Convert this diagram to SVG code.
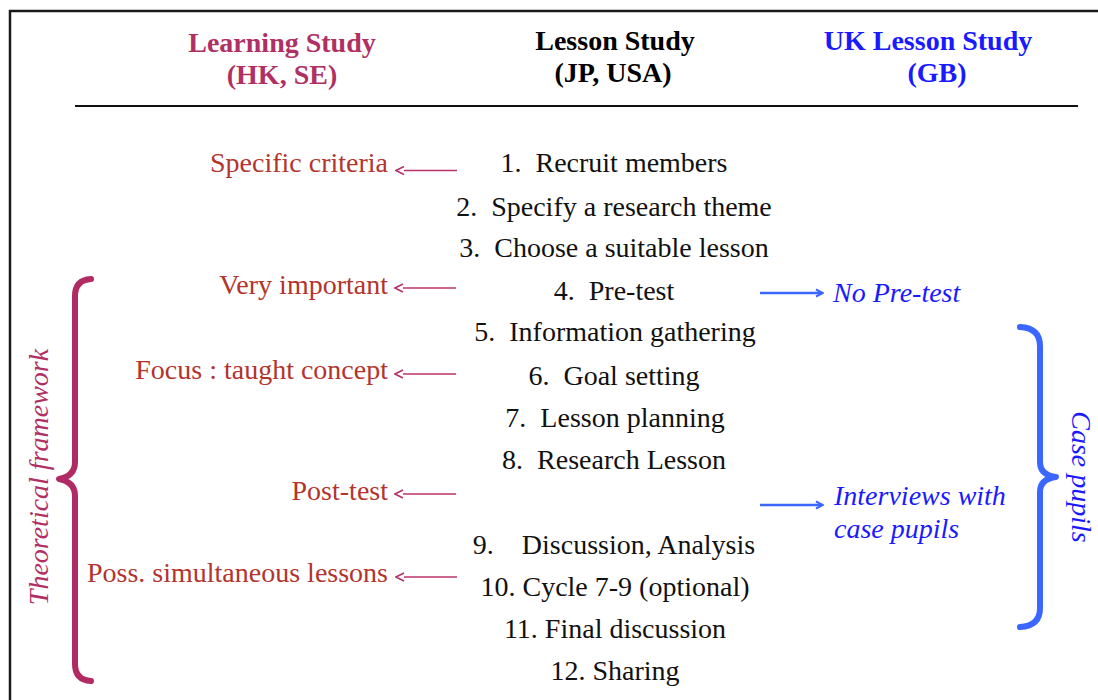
<svg xmlns="http://www.w3.org/2000/svg" width="1098" height="700" viewBox="0 0 1098 700">
<defs>
<style>
text{font-family:"Liberation Serif","Times New Roman",serif;font-size:28px}
.hd{font-weight:bold;text-anchor:middle}
.ls{fill:#b03064}
.jp{fill:#000}
.uk{fill:#1a1aff}
.step{fill:#111;text-anchor:middle;white-space:pre}
.red{fill:#b3342c;text-anchor:end}
.blue{fill:#1a1aff;font-style:italic}
.larr{stroke:#b8336a;stroke-width:1.6;fill:none;marker-end:url(#ah-l)}
.rarr{stroke:#3b66ff;stroke-width:2.4;fill:none;marker-end:url(#ah-r)}
.brace{fill:none;stroke-width:6;stroke-linecap:round;stroke-linejoin:round}
</style>
<marker id="ah-l" viewBox="0 0 10 10" refX="1" refY="5" markerWidth="10" markerHeight="10" markerUnits="userSpaceOnUse" orient="auto">
<path d="M1,1 L9,5 L1,9" fill="none" stroke="#b8336a" stroke-width="1.6"/>
</marker>
<marker id="ah-r" viewBox="0 0 10 10" refX="8" refY="5" markerWidth="10" markerHeight="10" markerUnits="userSpaceOnUse" orient="auto">
<path d="M2,1.5 L9,5 L2,8.5" fill="none" stroke="#3b66ff" stroke-width="2"/>
</marker>
</defs>
<rect width="1098" height="700" fill="#fff"/>
<path d="M10,700 V11 H1098" fill="none" stroke="#1a1a1a" stroke-width="2.5"/>
<line x1="75" y1="106" x2="1078" y2="106" stroke="#111" stroke-width="2"/>

<g id="header-learning">
<text class="hd ls" x="282" y="52">Learning Study</text>
<text class="hd ls" x="282" y="84">(HK, SE)</text>
</g>
<g id="header-lesson">
<text class="hd jp" x="615" y="50">Lesson Study</text>
<text class="hd jp" x="613" y="82">(JP, USA)</text>
</g>
<g id="header-uk">
<text class="hd uk" x="928" y="50">UK Lesson Study</text>
<text class="hd uk" x="937" y="82">(GB)</text>
</g>

<g id="steps" xml:space="preserve">
<text class="step" x="614" y="172">1.  Recruit members</text>
<text class="step" x="614" y="216">2.  Specify a research theme</text>
<text class="step" x="614" y="257">3.  Choose a suitable lesson</text>
<text class="step" x="614" y="300">4.  Pre-test</text>
<text class="step" x="615" y="341">5.  Information gathering</text>
<text class="step" x="614" y="385">6.  Goal setting</text>
<text class="step" x="615" y="427">7.  Lesson planning</text>
<text class="step" x="614" y="469">8.  Research Lesson</text>
<text class="step" x="614" y="554">9.    Discussion, Analysis</text>
<text class="step" x="615" y="596">10. Cycle 7-9 (optional)</text>
<text class="step" x="615" y="638">11. Final discussion</text>
<text class="step" x="615" y="680">12. Sharing</text>
</g>

<g id="learning-notes">
<text class="red" x="388" y="172">Specific criteria</text>
<text class="red" x="388" y="294">Very important</text>
<text class="red" x="388" y="379">Focus : taught concept</text>
<text class="red" x="388" y="500">Post-test</text>
<text class="red" x="388" y="582">Poss. simultaneous lessons</text>
</g>

<g id="uk-notes">
<text class="blue" x="833" y="302">No Pre-test</text>
<text class="blue" x="834" y="505">Interviews with</text>
<text class="blue" x="834" y="538">case pupils</text>
</g>

<g id="connectors">
<line class="larr" x1="457" y1="170.5" x2="404" y2="170.5"/>
<line class="larr" x1="456" y1="288" x2="403" y2="288"/>
<line class="larr" x1="456" y1="374" x2="403" y2="374"/>
<line class="larr" x1="456" y1="494" x2="403" y2="494"/>
<line class="larr" x1="457" y1="577" x2="404" y2="577"/>
<line class="rarr" x1="760" y1="293" x2="822" y2="293"/>
<line class="rarr" x1="760" y1="505" x2="822" y2="505"/>
</g>

<g id="theoretical-framework">
<path class="brace" stroke="#b02a64" d="M91,279 Q75,280 75,296 V462 Q75,476 59,479 Q75,482 75,496 V664 Q75,680 91,681"/>
<text class="ls" font-style="italic" text-anchor="middle" transform="translate(48,477) rotate(-90)">Theoretical framework</text>
</g>

<g id="case-pupils">
<path class="brace" stroke="#3b66ff" d="M1020,327 Q1040,328 1040,346 V462 Q1040,475 1056,477 Q1040,479 1040,492 V608 Q1040,626 1020,627"/>
<text class="uk" font-style="italic" text-anchor="middle" transform="translate(1072,477) rotate(90)">Case pupils</text>
</g>
</svg>
